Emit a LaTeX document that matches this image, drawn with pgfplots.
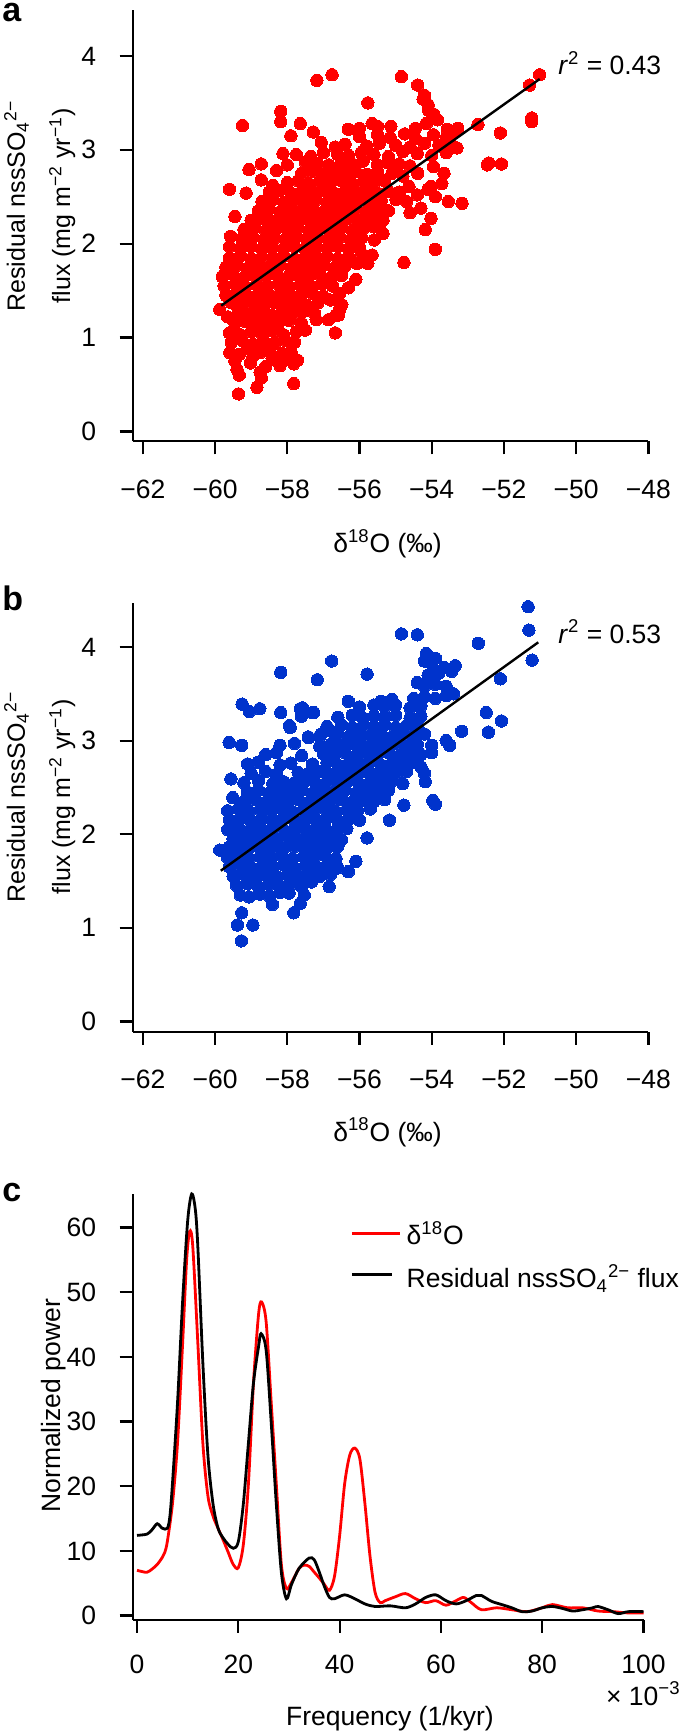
\documentclass[border=0pt]{standalone}
\usepackage{fontspec}
\setmainfont{Liberation Sans}
\usepackage{pgfplots}
\pgfplotsset{compat=1.18}
\definecolor{dotred}{RGB}{255,0,0}
\definecolor{dotblue}{RGB}{0,51,204}
\pgfplotsset{
  myaxis/.style={
    scale only axis,
    axis lines=left,
    axis line style={-, line width=1.1pt},
    tick align=outside,
    major tick length=6.5pt,
    every tick/.style={line width=1.1pt, black},
    tick label style={font=\fontsize{13.25}{15}\selectfont},
    enlargelimits=false,
    clip=false,
    clip marker paths=true,
    scaled ticks=false,
  },
  scat/.style={
    xmin=-62.28, xmax=-48, ymin=-0.105, ymax=4.49, width=257.85pt,
    xtick={-62,-60,-58,-56,-54,-52,-50,-48},
    xticklabels={−62,−60,−58,−56,−54,−52,−50,−48},
    ytick={0,1,2,3,4}, yticklabels={0,1,2,3,4},
    xticklabel style={anchor=base, yshift=-22pt},
    yticklabel style={anchor=east, xshift=-8.3pt},
  },
  dots/.style={only marks, color=#1, mark=*, mark size=3.1pt, mark options={draw=#1, fill=#1, line width=0pt}},
}
\begin{document}
\begin{tikzpicture}[font=\fontsize{13.25}{15}\selectfont]
\useasboundingbox (0,0) rectangle (342.5pt,-866.5pt);
% ---------------- panel a
\begin{axis}[myaxis, scat, height=215.65pt, at={(66.35pt,-5pt)}, anchor=north west]
\addplot[dots=dotred] coordinates {
(-59.35,0.40)(-58.84,0.47)(-57.82,0.51)(-59.39,0.66)(-59.33,0.60)(-58.72,0.57)(-58.75,0.63)(-58.60,0.69)(-58.42,0.78)(-58.14,0.83)(-57.72,0.76)(-57.82,0.72)(-59.59,0.84)(-59.33,0.82)(-59.02,0.73)(-58.95,0.80)(-58.30,0.76)(-58.05,0.77)(-58.75,0.84)(-59.10,0.88)(-58.50,0.86)(-57.90,0.85)(-59.45,0.75)(-58.20,0.70)
(-59.55,0.95)(-59.25,0.97)(-58.95,0.93)(-58.65,0.96)(-58.35,0.94)(-58.05,0.97)(-57.8,0.95)
(-59.6,1.05)(-59.3,1.03)(-59.0,1.06)(-58.7,1.04)(-58.4,1.07)(-58.1,1.03)(-57.75,1.06)(-57.5,1.08)(-56.67,1.05)
(-59.45,1.15)(-59.15,1.17)(-58.85,1.14)(-58.55,1.16)(-58.25,1.15)(-57.95,1.18)(-57.6,1.15)(-57.2,1.19)(-56.86,1.19)
(-59.65,1.22)(-59.35,1.27)(-59.05,1.25)(-58.75,1.26)(-58.45,1.24)(-58.15,1.27)(-57.85,1.25)(-57.55,1.28)(-57.25,1.26)(-56.55,1.30)(-56.65,1.24)
(-59.87,1.30)(-59.55,1.37)(-59.25,1.35)(-58.95,1.36)(-58.65,1.34)(-58.35,1.37)(-58.05,1.35)(-57.75,1.36)(-57.45,1.34)(-57.15,1.37)(-56.49,1.35)(-56.8,1.40)
(-59.7,1.45)(-59.4,1.47)(-59.1,1.44)(-58.8,1.46)(-58.5,1.45)(-58.2,1.47)(-57.9,1.44)(-57.6,1.46)(-57.3,1.47)(-57.0,1.44)(-56.55,1.47)(-56.31,1.53)
(-59.75,1.55)(-59.45,1.57)(-59.15,1.54)(-58.85,1.56)(-58.55,1.55)(-58.25,1.57)(-57.95,1.54)(-57.65,1.56)(-57.35,1.55)(-57.05,1.57)(-56.75,1.55)
(-59.8,1.65)(-59.5,1.67)(-59.2,1.64)(-58.9,1.66)(-58.6,1.65)(-58.3,1.67)(-58.0,1.64)(-57.7,1.66)(-57.4,1.65)(-57.1,1.67)(-56.8,1.64)(-56.5,1.66)(-56.1,1.62)
(-59.7,1.75)(-59.4,1.77)(-59.1,1.74)(-58.8,1.76)(-58.5,1.75)(-58.2,1.77)(-57.9,1.74)(-57.6,1.76)(-57.3,1.75)(-57.0,1.77)(-56.7,1.74)(-56.4,1.76)(-56.07,1.79)(-55.77,1.79)
(-59.6,1.85)(-59.3,1.87)(-59.0,1.84)(-58.7,1.86)(-58.4,1.85)(-58.1,1.87)(-57.8,1.84)(-57.5,1.86)(-57.2,1.85)(-56.9,1.87)(-56.6,1.84)(-56.3,1.86)(-55.65,1.88)(-55.95,1.90)
(-59.6,1.97)(-59.3,1.95)(-59.0,1.97)(-58.7,1.94)(-58.4,1.96)(-58.1,1.95)(-57.8,1.97)(-57.5,1.94)(-57.2,1.96)(-56.9,1.95)(-56.6,1.97)(-56.3,1.94)(-56.0,1.96)
(-59.57,2.08)(-59.25,2.05)(-58.95,2.07)(-58.65,2.04)(-58.35,2.06)(-58.05,2.05)(-57.75,2.07)(-57.45,2.04)(-57.15,2.06)(-56.85,2.05)(-56.55,2.07)(-56.25,2.04)(-55.95,2.06)(-55.59,2.04)
(-59.2,2.15)(-58.9,2.17)(-58.6,2.14)(-58.3,2.16)(-58.0,2.15)(-57.7,2.17)(-57.4,2.14)(-57.1,2.16)(-56.8,2.15)(-56.5,2.17)(-56.2,2.14)(-55.9,2.16)(-55.35,2.11)(-55.6,2.18)
(-59.45,2.29)(-59.0,2.25)(-58.7,2.27)(-58.4,2.24)(-58.1,2.26)(-57.8,2.25)(-57.5,2.27)(-57.2,2.24)(-56.9,2.26)(-56.6,2.25)(-56.3,2.27)(-56.0,2.24)(-55.7,2.26)(-55.35,2.25)(-54.18,2.15)(-54.02,2.27)
(-58.8,2.35)(-58.5,2.37)(-58.2,2.34)(-57.9,2.36)(-57.6,2.35)(-57.3,2.37)(-57.0,2.34)(-56.7,2.36)(-56.4,2.35)(-56.1,2.37)(-55.8,2.34)(-55.5,2.36)(-55.2,2.35)(-54.6,2.33)(-54.3,2.38)
(-58.7,2.45)(-58.4,2.47)(-58.1,2.44)(-57.8,2.46)(-57.5,2.45)(-57.2,2.47)(-56.9,2.44)(-56.6,2.46)(-56.3,2.45)(-56.0,2.47)(-55.7,2.44)(-55.4,2.46)(-54.99,2.47)(-54.7,2.45)(-53.54,2.45)(-53.16,2.43)
(-59.14,2.54)(-59.60,2.58)(-58.5,2.55)(-58.2,2.57)(-57.9,2.54)(-57.6,2.56)(-57.3,2.55)(-57.0,2.57)(-56.7,2.54)(-56.4,2.56)(-56.1,2.55)(-55.8,2.57)(-55.5,2.54)(-55.2,2.56)(-54.9,2.55)(-54.4,2.52)(-53.90,2.50)(-54.1,2.58)
(-58.72,2.68)(-58.0,2.65)(-57.7,2.67)(-57.4,2.64)(-57.1,2.66)(-56.8,2.65)(-56.5,2.67)(-56.2,2.64)(-55.9,2.66)(-55.6,2.65)(-55.3,2.67)(-54.63,2.61)(-54.02,2.61)(-53.72,2.64)(-58.4,2.62)
(-59.06,2.79)(-58.3,2.78)(-57.6,2.75)(-57.3,2.77)(-57.0,2.74)(-56.7,2.76)(-56.4,2.75)(-56.1,2.77)(-55.8,2.74)(-55.5,2.76)(-55.1,2.75)(-54.39,2.75)(-53.66,2.75)(-54.8,2.72)
(-58.72,2.85)(-58.0,2.84)(-57.5,2.87)(-57.15,2.85)(-56.85,2.84)(-56.5,2.86)(-56.2,2.85)(-55.9,2.88)(-55.5,2.84)(-55.2,2.86)(-54.9,2.85)(-54.6,2.83)(-53.95,2.82)(-52.46,2.84)(-52.42,2.86)(-52.07,2.85)
(-58.12,2.96)(-57.75,2.95)(-57.35,2.93)(-57.0,2.97)(-56.6,2.95)(-56.3,2.94)(-55.95,2.97)(-55.6,2.95)(-55.2,2.93)(-54.8,2.98)(-54.4,2.96)(-54.0,2.94)(-53.6,2.97)
(-57.06,3.08)(-56.67,3.03)(-56.4,3.06)(-55.8,3.04)(-55.45,3.07)(-55.0,3.05)(-54.6,3.03)(-54.2,3.07)(-53.8,3.05)(-53.30,3.02)(-53.5,3.08)
(-57.90,3.15)(-57.28,3.19)(-56.0,3.14)(-55.5,3.16)(-55.15,3.13)(-54.75,3.17)(-54.45,3.12)(-53.95,3.16)(-53.6,3.13)(-52.10,3.18)(-53.4,3.18)
(-56.31,3.22)(-55.13,3.25)(-54.45,3.23)(-53.57,3.22)(-53.28,3.23)(-52.72,3.27)(-53.84,3.32)(-54.15,3.28)(-55.5,3.25)(-57.64,3.28)(-59.24,3.26)(-58.18,3.30)
(-54.08,3.42)(-58.18,3.41)(-55.77,3.50)(-54.2,3.58)(-54.24,3.54)(-54.39,3.69)(-54.84,3.78)(-56.76,3.80)(-57.18,3.74)(-51.01,3.80)(-51.29,3.69)(-51.23,3.34)(-51.23,3.30)(-54.1,3.48)(-53.95,3.38)(-56.0,3.23)(-55.65,3.28)
(-53.90,1.94)(-54.77,1.80)(-56.58,1.24)(-55.35,2.25)
};
\addplot[black, line width=1.2pt] coordinates {(-59.83,1.34)(-51.01,3.755)};
\end{axis}
% ---------------- panel b
\begin{axis}[myaxis, scat, ymin=-0.11, ymax=4.47, height=214.35pt, at={(66.35pt,-301.5pt)}, anchor=north west]
\addplot[dots=dotblue] coordinates {
(-59.27,0.86)(-59.38,1.03)(-58.95,1.03)(-59.26,1.16)(-57.82,1.16)(-58.41,1.25)(-57.64,1.26)
(-59.3,1.35)(-59.05,1.33)(-58.75,1.36)(-58.5,1.34)(-57.53,1.35)(-58.2,1.38)(-57.95,1.37)
(-59.4,1.45)(-59.1,1.47)(-58.8,1.44)(-58.5,1.46)(-58.2,1.45)(-57.9,1.47)(-57.6,1.44)(-57.33,1.49)(-56.84,1.44)
(-59.5,1.55)(-59.2,1.57)(-58.9,1.54)(-58.6,1.56)(-58.3,1.55)(-58.0,1.57)(-57.7,1.54)(-57.4,1.56)(-57.1,1.55)(-56.8,1.57)(-56.31,1.60)
(-59.6,1.65)(-59.3,1.67)(-59.0,1.64)(-58.7,1.66)(-58.4,1.65)(-58.1,1.67)(-57.8,1.64)(-57.5,1.66)(-57.2,1.65)(-56.9,1.67)(-56.6,1.64)(-56.10,1.71)
(-59.65,1.75)(-59.35,1.77)(-59.05,1.74)(-58.75,1.76)(-58.45,1.75)(-58.15,1.77)(-57.85,1.74)(-57.55,1.76)(-57.25,1.75)(-56.95,1.77)(-56.65,1.74)
(-59.87,1.83)(-59.61,1.86)(-59.3,1.85)(-59.0,1.87)(-58.7,1.84)(-58.4,1.86)(-58.1,1.85)(-57.8,1.87)(-57.5,1.84)(-57.2,1.86)(-56.9,1.85)(-56.6,1.87)
(-59.5,1.95)(-59.2,1.97)(-58.9,1.94)(-58.6,1.96)(-58.3,1.95)(-58.0,1.97)(-57.7,1.94)(-57.4,1.96)(-57.1,1.95)(-56.8,1.97)(-56.5,1.94)(-55.79,1.96)
(-59.65,2.05)(-59.35,2.07)(-59.05,2.04)(-58.75,2.06)(-58.45,2.05)(-58.15,2.07)(-57.85,2.04)(-57.55,2.06)(-57.25,2.05)(-56.95,2.07)(-56.65,2.04)(-56.35,2.06)
(-59.6,2.15)(-59.3,2.17)(-59.0,2.14)(-58.7,2.16)(-58.4,2.15)(-58.1,2.17)(-57.8,2.14)(-57.5,2.16)(-57.2,2.15)(-56.9,2.17)(-56.6,2.14)(-56.3,2.16)(-56.0,2.15)(-55.17,2.15)
(-59.65,2.25)(-59.35,2.27)(-59.05,2.24)(-58.75,2.26)(-58.45,2.25)(-58.15,2.27)(-57.85,2.24)(-57.55,2.26)(-57.25,2.25)(-56.95,2.27)(-56.65,2.24)(-56.35,2.26)(-56.05,2.25)(-55.7,2.27)(-54.77,2.31)
(-59.51,2.39)(-59.2,2.35)(-58.9,2.37)(-58.6,2.34)(-58.3,2.36)(-58.0,2.35)(-57.7,2.37)(-57.4,2.34)(-57.1,2.36)(-56.8,2.35)(-56.5,2.37)(-56.2,2.34)(-55.9,2.36)(-55.6,2.35)(-55.3,2.37)(-53.97,2.36)(-53.9,2.32)
(-59.1,2.45)(-58.8,2.47)(-58.5,2.44)(-58.2,2.46)(-57.9,2.45)(-57.6,2.47)(-57.3,2.44)(-57.0,2.46)(-56.7,2.45)(-56.4,2.47)(-56.1,2.44)(-55.8,2.46)(-55.5,2.45)(-55.2,2.47)
(-59.56,2.59)(-59.2,2.55)(-58.8,2.57)(-58.4,2.54)(-58.1,2.56)(-57.8,2.55)(-57.5,2.57)(-57.2,2.54)(-56.9,2.56)(-56.6,2.55)(-56.3,2.57)(-56.0,2.54)(-55.7,2.56)(-55.4,2.55)(-55.1,2.57)(-54.8,2.54)(-54.18,2.56)(-54.2,2.65)
(-59.0,2.65)(-58.6,2.67)(-58.3,2.64)(-57.7,2.66)(-57.4,2.65)(-57.1,2.67)(-56.8,2.64)(-56.5,2.66)(-56.2,2.65)(-55.9,2.67)(-55.6,2.64)(-55.3,2.66)(-55.0,2.65)(-54.7,2.67)
(-59.1,2.75)(-58.8,2.77)(-58.2,2.74)(-57.9,2.76)(-57.3,2.75)(-56.9,2.77)(-56.6,2.74)(-56.3,2.76)(-56.0,2.75)(-55.7,2.77)(-55.4,2.74)(-55.1,2.76)(-54.8,2.75)(-54.5,2.77)(-54.3,2.72)
(-58.6,2.85)(-58.3,2.87)(-57.6,2.84)(-57.0,2.86)(-56.7,2.85)(-56.4,2.87)(-56.1,2.84)(-55.8,2.86)(-55.5,2.85)(-55.2,2.87)(-54.9,2.84)(-54.6,2.86)(-54.3,2.85)(-54.0,2.87)
(-59.61,2.98)(-59.26,2.95)(-58.2,2.95)(-57.8,2.97)(-57.1,2.94)(-56.8,2.96)(-56.5,2.95)(-56.2,2.97)(-55.9,2.94)(-55.6,2.96)(-55.3,2.95)(-55.0,2.97)(-54.7,2.94)(-54.4,2.96)(-54.0,2.95)(-53.17,3.10)(-53.5,2.95)(-53.6,3.00)
(-57.41,3.03)(-57.1,3.05)(-56.6,3.07)(-56.3,3.04)(-56.0,3.06)(-55.7,3.05)(-55.4,3.07)(-55.1,3.04)(-54.8,3.06)(-54.5,3.05)(-54.2,3.07)(-52.43,3.09)
(-57.92,3.14)(-56.9,3.15)(-56.5,3.17)(-56.2,3.14)(-55.9,3.16)(-55.6,3.15)(-55.3,3.17)(-55.0,3.14)(-54.7,3.16)(-54.4,3.15)(-52.07,3.21)
(-58.18,3.30)(-57.61,3.26)(-57.27,3.30)(-56.6,3.25)(-56.2,3.27)(-55.9,3.24)(-55.6,3.26)(-55.3,3.25)(-55.0,3.27)(-54.6,3.24)(-54.3,3.26)(-52.49,3.30)(-59.05,3.31)(-58.76,3.34)
(-59.25,3.39)(-57.58,3.35)(-56.0,3.36)(-55.6,3.38)(-55.3,3.36)(-55.0,3.38)(-54.6,3.35)(-54.3,3.37)
(-55.4,3.42)(-55.1,3.44)(-54.5,3.45)(-54.2,3.47)(-53.9,3.45)(-53.6,3.48)(-53.4,3.50)(-53.6,3.58)(-53.9,3.60)(-54.2,3.58)(-54.4,3.62)(-54.1,3.70)(-53.8,3.72)(-53.45,3.74)(-53.35,3.80)(-53.65,3.78)(-54.0,3.82)(-54.2,3.85)(-54.15,3.93)(-53.9,3.88)
(-56.77,3.85)(-58.18,3.73)(-57.17,3.65)(-55.79,3.71)(-54.84,4.14)(-54.40,4.13)(-52.71,4.04)(-52.10,3.66)(-51.33,4.43)(-51.31,4.18)(-51.22,3.86)
(-57.94,3.16)(-57.64,3.34)(-57.30,3.30)(-57.42,3.04)(-57.06,3.07)(-56.31,3.42)(-56.73,3.09)
};
\addplot[black, line width=1.2pt] coordinates {(-59.84,1.61)(-51.05,4.05)};
\end{axis}
% ---------------- panel c
\begin{axis}[myaxis, xmin=-0.85, xmax=100, ymin=-0.63, ymax=65.24,
  width=255.4pt, height=212.95pt, at={(66.35pt,-596.85pt)}, anchor=north west,
  xtick={0,20,40,60,80,100}, xticklabels={0,20,40,60,80,100},
  ytick={0,10,20,30,40,50,60}, yticklabels={0,10,20,30,40,50,60},
  xticklabel style={anchor=base, yshift=-20.3pt},
  yticklabel style={anchor=east, xshift=-8.3pt}]
\addplot[dotred, line width=1.4pt, smooth, tension=0.5] coordinates {
(0,7.0)(1,6.8)(2,6.7)(3,7.2)(4,7.9)(5,9.0)(5.5,9.8)(6,11.5)(7,17.3)(8,26.7)(9,42)(9.8,55)(10.4,59.4)(11,57.2)(12,42.3)(13,26.7)(14,18.5)(15,15.4)(16,13.5)(17,11.7)(18,9.8)(19,7.9)(20,7.4)(21,11)(22,20.4)(23,36)(24,46.6)(24.6,48.5)(25.5,45.4)(26.5,32.9)(27.5,20.4)(28.5,7.9)(29.5,4.2)(30.5,5.1)(32,7.3)(33,7.8)(34,7.6)(35,6.7)(36,5.8)(37,4.8)(38,3.9)(39,6.1)(40,12.3)(41,20.4)(42,24.8)(43,25.9)(44,24.2)(45,17.3)(46,9.2)(47,3.6)(48,2.0)(49,2.3)(51,2.9)(53,3.4)(55,2.6)(57,2.0)(59,2.3)(61,1.6)(63,2.3)(64.5,2.8)(66,2.0)(68,0.9)(71,1.2)(74,0.9)(77,0.6)(80,1.2)(82,1.7)(85,1.2)(88,1.2)(91,0.7)(94,0.6)(97,0.4)(100,0.4)
};
\addplot[black, line width=1.4pt, smooth, tension=0.5] coordinates {
(0,12.4)(2,12.6)(3,13.3)(4,14.2)(5,13.5)(6,13.5)(6.5,15.4)(7,20.4)(8,32.9)(9,48.5)(10,61)(10.8,65.2)(11.5,62.9)(12,57.2)(13,39.1)(14,24.8)(15,17.3)(16,13.5)(17,12)(18,11)(19,10.4)(20,11.4)(21,17.3)(22,26.7)(23,36)(24,41.6)(24.5,43.6)(25.5,41)(26.5,29.8)(27.5,17.3)(28.5,6.7)(29.5,2.6)(30.5,4.8)(32,7.3)(34,8.9)(35,8.6)(36,6.7)(37,4.5)(38,2.8)(39,2.6)(41,3.2)(43,2.6)(45,1.8)(47,1.4)(50,1.5)(53,1.2)(55,1.8)(57,2.8)(59,3.2)(61,2.3)(63,1.8)(65,2.3)(67,3.1)(68,3.1)(70,2.2)(72,1.7)(74,1.2)(76,0.6)(78,0.7)(80,1.2)(82,1.4)(84,1.1)(86,0.7)(88,0.9)(90,1.2)(91,1.4)(93,0.9)(95,0.3)(97,0.6)(100,0.6)
};
\addplot[dotred, line width=1.4pt] coordinates {(42.4,59.1)(51.9,59.1)};
\addplot[black, line width=1.4pt] coordinates {(42.4,52.8)(50.4,52.8)};
\end{axis}
% ---------------- texts
\node[anchor=base west, inner sep=0, font=\bfseries\fontsize{17}{20}\selectfont] at (1pt,-11pt) {a};
\node[anchor=base west, inner sep=0, font=\bfseries\fontsize{17}{20}\selectfont] at (1pt,-305pt) {b};
\node[anchor=base west, inner sep=0, font=\bfseries\fontsize{17}{20}\selectfont] at (1pt,-600.5pt) {c};
\begin{scope}[font=\fontsize{12.5}{15}\selectfont]
\node[rotate=90, anchor=base, inner sep=0] at (12.5pt,-103pt) {Residual nssSO\textsubscript{4}\textsuperscript{2−}};
\node[rotate=90, anchor=base, inner sep=0] at (35pt,-103pt) {flux (mg m\textsuperscript{−2} yr\textsuperscript{−1})};
\node[rotate=90, anchor=base, inner sep=0] at (12.5pt,-398.5pt) {Residual nssSO\textsubscript{4}\textsuperscript{2−}};
\node[rotate=90, anchor=base, inner sep=0] at (35pt,-398.5pt) {flux (mg m\textsuperscript{−2} yr\textsuperscript{−1})};
\end{scope}
\node[rotate=90, anchor=base, inner sep=0] at (30pt,-702.9pt) {Normalized power};
\node[anchor=base, inner sep=0] at (193.75pt,-276.25pt) {δ\textsuperscript{18}O (‰)};
\node[anchor=base, inner sep=0] at (193.75pt,-570.5pt) {δ\textsuperscript{18}O (‰)};
\node[anchor=base, inner sep=0] at (195pt,-862.5pt) {Frequency (1/kyr)};
\node[anchor=base east, inner sep=0] at (340.5pt,-852.5pt) {× 10\textsuperscript{−3}};
\node[anchor=base west, inner sep=0] at (279pt,-37.5pt) {\textit{r}\textsuperscript{2} = 0.43};
\node[anchor=base west, inner sep=0] at (279pt,-321.5pt) {\textit{r}\textsuperscript{2} = 0.53};
\node[anchor=base west, inner sep=0] at (203.15pt,-622.25pt) {δ\textsuperscript{18}O};
\node[anchor=base west, inner sep=0] at (203.15pt,-643.85pt) {Residual nssSO\textsubscript{4}\textsuperscript{2−} flux};
\end{tikzpicture}
\end{document}
